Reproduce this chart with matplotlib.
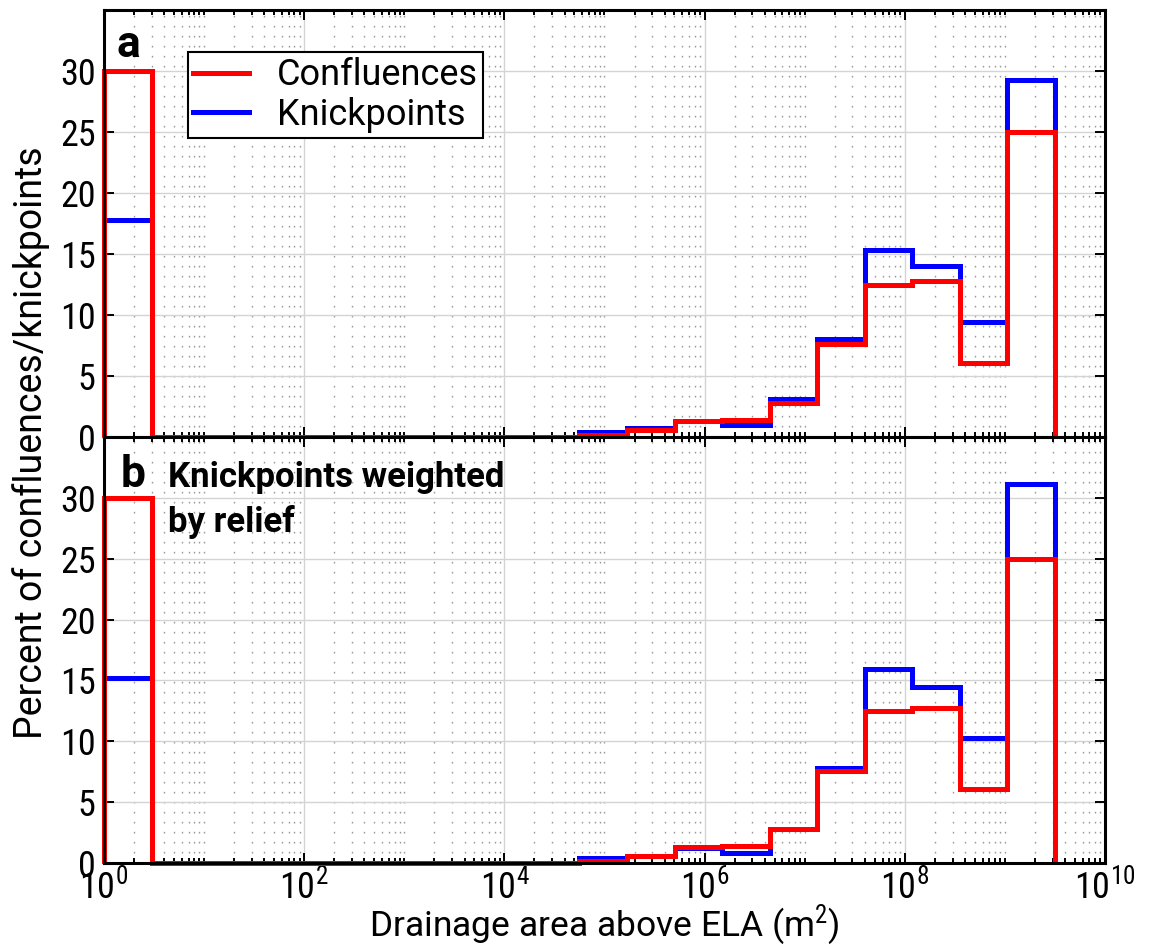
import numpy as np
import matplotlib
matplotlib.use('Agg')
import matplotlib.pyplot as plt
from matplotlib import font_manager
from matplotlib.lines import Line2D
from matplotlib.ticker import FixedLocator, NullFormatter

# histogram bins: log10 of drainage area above ELA (m^2)
log_edges = np.linspace(0, 9.5, 21)

# percent per bin
confluences = [30.0, 0, 0, 0, 0, 0, 0, 0, 0, 0,
               0.2, 0.6, 1.35, 1.4, 2.8, 7.6, 12.5, 12.75, 6.1, 25.0]
knickpoints = [17.8, 0, 0, 0, 0, 0, 0, 0, 0, 0,
               0.45, 0.75, 1.35, 0.95, 3.1, 8.0, 15.3, 14.0, 9.4, 29.3]
knickpoints_relief = [15.2, 0, 0, 0, 0, 0, 0, 0, 0, 0,
                      0.4, 0.6, 1.25, 0.8, 2.8, 7.8, 15.9, 14.5, 10.3, 31.1]

y_ticks = [0, 5, 10, 15, 20, 25, 30]
x_major = [10.0 ** p for p in range(0, 11, 2)]
x_minor = [k * 10.0 ** p for p in range(0, 10) for k in range(1, 10)
           if not (k == 1 and p % 2 == 0)]

# narrow font for the tick numbers, a wider one for the words
names = {f.name for f in font_manager.fontManager.ttflist}
narrow = 'Roboto Condensed' if 'Roboto Condensed' in names else 'Roboto'
wide = 'Roboto'
plt.rcParams['font.family'] = [narrow, 'DejaVu Sans']
plt.rcParams['mathtext.fontset'] = 'custom'
plt.rcParams['mathtext.rm'] = narrow
plt.rcParams['mathtext.default'] = 'rm'

edges = 10.0 ** log_edges

fig = plt.figure(figsize=(11.54, 9.49), dpi=100)
ax1 = fig.add_axes([0.0901, 0.5395, 0.8674, 0.4499])
ax2 = fig.add_axes([0.0901, 0.0906, 0.8674, 0.4489])

for ax, kp in [(ax1, knickpoints), (ax2, knickpoints_relief)]:
    s = ax.stairs(kp, edges, baseline=0, color='#0000ff', linewidth=3.6, clip_on=False)
    s.set_joinstyle('miter')
    s = ax.stairs(confluences, edges, baseline=0, color='#ff0000', linewidth=3.6, clip_on=False)
    s.set_joinstyle('miter')

    ax.set_xscale('log')
    ax.set_xlim(1, 1e10)
    ax.set_ylim(0, 35)
    ax.xaxis.set_major_locator(FixedLocator(x_major))
    ax.xaxis.set_minor_locator(FixedLocator(x_minor))
    ax.xaxis.set_minor_formatter(NullFormatter())
    ax.set_yticks(y_ticks)

    ax.grid(True, which='major', color='#d4d4d4', linewidth=1.0, linestyle='-')
    ax.xaxis.grid(True, which='minor', color='#9a9a9a', linewidth=1.0,
                  linestyle=(0, (1.2, 6)))
    ax.set_axisbelow(True)

    ax.tick_params(which='both', direction='in', top=True, right=True,
                   labelsize=26, width=1.4)
    ax.tick_params(axis='y', pad=6)
    ax.tick_params(axis='x', pad=4)
    ax.tick_params(which='major', length=7.5)
    ax.tick_params(which='minor', length=3.8)
    for sp in ax.spines.values():
        sp.set_linewidth(2.2)

ax1.tick_params(labelbottom=False)
ax2.set_xticklabels(['$10^{%d}$' % p for p in range(0, 11, 2)])
ax2.set_xlabel('Drainage area above ELA (m$^2$)', fontsize=25.5, fontfamily=wide)
ax2.xaxis.set_label_coords(0.5, -0.094)

fig.text(0.027, 0.533, 'Percent of confluences/knickpoints', rotation=90,
         ha='center', va='center', fontsize=27, fontfamily=wide)

ax1.text(0.013, 0.89, 'a', transform=ax1.transAxes, fontsize=32,
         fontweight='bold', va='baseline', fontfamily=wide)
ax2.text(0.017, 0.883, 'b', transform=ax2.transAxes, fontsize=32,
         fontweight='bold', va='baseline', fontfamily=wide)
ax2.text(0.064, 0.883, 'Knickpoints weighted', transform=ax2.transAxes,
         fontsize=25, fontweight='bold', va='baseline', fontfamily=wide)
ax2.text(0.064, 0.778, 'by relief', transform=ax2.transAxes,
         fontsize=25, fontweight='bold', va='baseline', fontfamily=wide)

handles = [Line2D([], [], color='#ff0000', linewidth=3.6),
           Line2D([], [], color='#0000ff', linewidth=3.6)]
leg = ax1.legend(handles, ['Confluences', 'Knickpoints'], loc='upper left',
                 bbox_to_anchor=(0.084, 0.902), borderaxespad=0,
                 prop={'family': wide, 'size': 26},
                 fancybox=False, framealpha=1, edgecolor='black',
                 handlelength=1.55, handletextpad=0.75, borderpad=0.15,
                 labelspacing=0.1)
leg.get_frame().set_linewidth(1.5)

fig.savefig('out.png', dpi=100)
